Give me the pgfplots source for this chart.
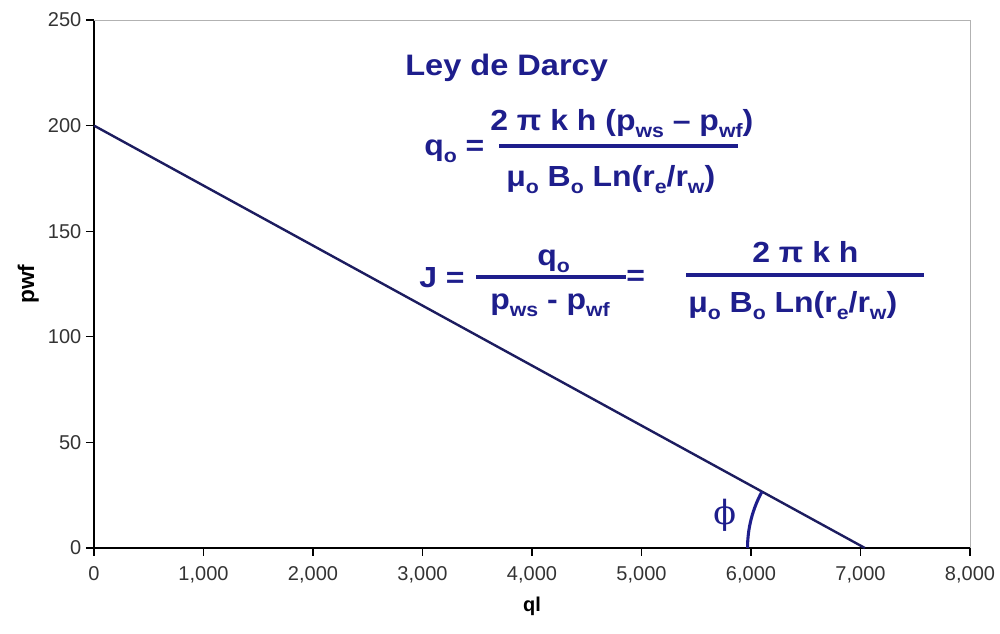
\documentclass[border=0pt]{standalone}
\usepackage{pgfplots}
\pgfplotsset{compat=1.18}
\usepackage{fontspec}
\setmainfont{Liberation Sans}
\newfontfamily\formfont[FakeStretch=1.1]{Liberation Sans}
\newfontfamily\phifont{DejaVu Serif}
\definecolor{navy}{RGB}{30,30,140}
\definecolor{linecol}{RGB}{28,28,95}
\newcommand{\sbs}[1]{\raisebox{-0.45ex}{\fontsize{14.5}{14.5}\selectfont #1}}
\newcommand{\ff}{\formfont\fontsize{21.8}{21.8}\selectfont\bfseries\color{navy}}
\begin{document}
\begin{tikzpicture}
\useasboundingbox (0,0) rectangle (750pt,475.5pt);
\begin{axis}[
  at={(70.5pt,64.5pt)}, anchor=south west,
  scale only axis, width=657pt, height=396pt,
  xmin=0, xmax=8000, ymin=0, ymax=250,
  axis lines*=left,
  axis line style={black, line width=1.1pt},
  tick align=outside, major tick length=6pt,
  tick style={black, line width=1pt},
  xtick={0,1000,...,8000}, ytick={0,50,...,250},
  /pgf/number format/.cd, 1000 sep={,}, assume math mode=true,
  /pgfplots/.cd,
  ticklabel style={font=\fontsize{15}{15}\selectfont, text=black!80},
  xticklabel style={yshift=-4pt},
  xlabel={\textbf{ql}}, ylabel={\textbf{pwf}},
  xlabel style={font=\fontsize{15}{15}\selectfont, yshift=-4pt},
  ylabel style={font=\fontsize{17}{17}\selectfont, yshift=0pt},
  clip=false,
]
\draw[gray!60, line width=0.5pt] (rel axis cs:0,1) -- (rel axis cs:1,1) -- (rel axis cs:1,0);
\addplot[color=linecol, line width=1.8pt, mark=none] coordinates {(0,200) (7040,0)};
\draw[navy, line width=2.3pt] (axis cs:7040,0) ++(180:88pt) arc[start angle=180, end angle=151.3, radius=88pt];
\node[navy, font=\phifont\fontsize{25}{25}\selectfont] at (axis cs:5760,15.5) {ϕ};
\end{axis}
\begin{scope}[x=0.75pt,y=-0.75pt,shift={(0pt,475.5pt)}]
\node[anchor=base west, inner sep=0, font=\formfont\fontsize{22.2}{22.2}\selectfont\bfseries, text=navy] at (405,76) {Ley de Darcy};
% formula 1
\node[anchor=base west, inner sep=0, font=\ff] at (424,156) {q\sbs{o} =};
\node[anchor=base west, inner sep=0, font=\ff] at (490,130.5) {2 π k h (p\sbs{ws} – p\sbs{wf})};
\draw[navy, line width=2.3pt] (499,146) -- (738,146);
\node[anchor=base west, inner sep=0, font=\ff] at (506,186.5) {μ\sbs{o} B\sbs{o} Ln(r\sbs{e}/r\sbs{w})};
% formula 2
\node[anchor=base west, inner sep=0, font=\ff] at (419,288) {J =};
\draw[navy, line width=2.3pt] (476,277) -- (626,277);
\node[anchor=base west, inner sep=0, font=\ff] at (537,266) {q\sbs{o}};
\node[anchor=base west, inner sep=0, font=\ff] at (490,309.5) {p\sbs{ws} - p\sbs{wf}};
\node[anchor=base west, inner sep=0, font=\ff] at (626,286) {=};
\draw[navy, line width=2.3pt] (686,275) -- (924,275);
\node[anchor=base west, inner sep=0, font=\ff] at (752,262.5) {2 π k h};
\node[anchor=base west, inner sep=0, font=\ff] at (688,313) {μ\sbs{o} B\sbs{o} Ln(r\sbs{e}/r\sbs{w})};
\end{scope}
\end{tikzpicture}
\end{document}
